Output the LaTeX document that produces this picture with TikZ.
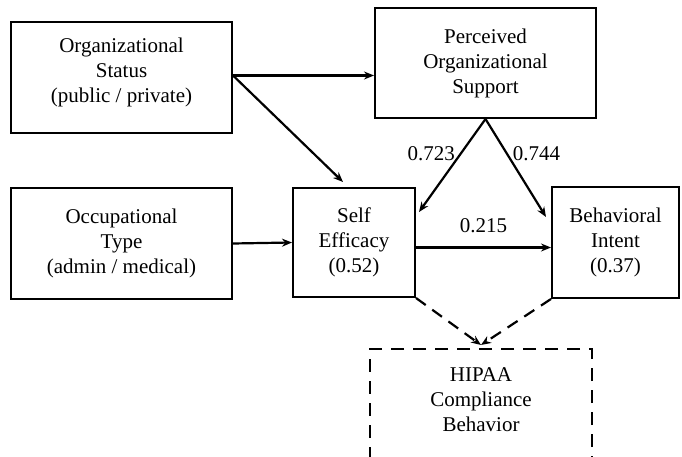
\documentclass[tikz,border=0pt]{standalone}
\usepackage{fontspec}
\setmainfont{Liberation Serif}
\usetikzlibrary{positioning,arrows.meta}

\begin{document}
\begin{tikzpicture}[x=1pt,y=-1pt,>={Stealth[length=10pt,width=8pt]},
  box/.style={draw,line width=2pt,align=center,inner sep=0pt,font=\rmfamily\fontsize{21}{25}\selectfont},
  dbox/.style={box,dash pattern=on 13pt off 9pt,line width=2.2pt},
  lbl/.style={font=\rmfamily\fontsize{21}{25}\selectfont,inner sep=0pt},
  link/.style={->,line width=2.2pt},
  dlink/.style={->,line width=2.2pt,dash pattern=on 12pt off 8pt}]
\useasboundingbox (0,0) rectangle (682,457);
\node[box,minimum width=221pt,minimum height=111pt] (status) at (121.5,77.5) {};
\node[lbl,align=center] (statustxt) at ([yshift=5pt]status.center) {Organizational\\Status\\(public / private)};
\node[box,minimum width=221pt,minimum height=110pt] (support) at (485.5,63) {Perceived\\Organizational\\Support};
\node[box,minimum width=221pt,minimum height=111pt] (occtype) at (121.5,243.5) {Occupational\\Type\\(admin / medical)};
\node[box,minimum width=122pt,minimum height=109pt] (efficacy) at (354,242.5) {Self\\Efficacy\\(0.52)};
\node[box,minimum width=127pt,minimum height=111pt] (intent) at (615.5,242.5) {Behavioral\\Intent\\(0.37)};
\node[dbox,minimum width=222pt,minimum height=140pt,anchor=north] (hipaa) at (481,348) {};
\node[lbl,align=center,below=19pt of hipaa.north] (hipaatxt) {HIPAA\\Compliance\\Behavior};

\draw[link] ([yshift=2pt]status.east) -- ([yshift=2pt]status.east -| support.west);
\draw[link] ([yshift=2pt]status.east) -- ([xshift=-11pt,yshift=5pt]efficacy.north);
\draw[link] (occtype.east) -- (efficacy.west);
\draw[link] (support.south) -- ([xshift=3pt,yshift=-25pt]efficacy.north east) node[lbl,pos=0.37,left=5pt]{0.723};
\draw[link] (support.south) -- ([xshift=-5pt,yshift=-31pt]intent.north west) node[lbl,pos=0.35,right=5pt]{0.744};
\draw[link] ([yshift=-5pt]efficacy.east) -- ([yshift=-5pt]efficacy.east -| intent.west) node[lbl,midway,above=14pt]{0.215};
\draw[dlink] (efficacy.south east) -- ([yshift=3pt]hipaa.north);
\draw[dlink] (intent.south west) -- ([yshift=3pt]hipaa.north);
\end{tikzpicture}
\end{document}
